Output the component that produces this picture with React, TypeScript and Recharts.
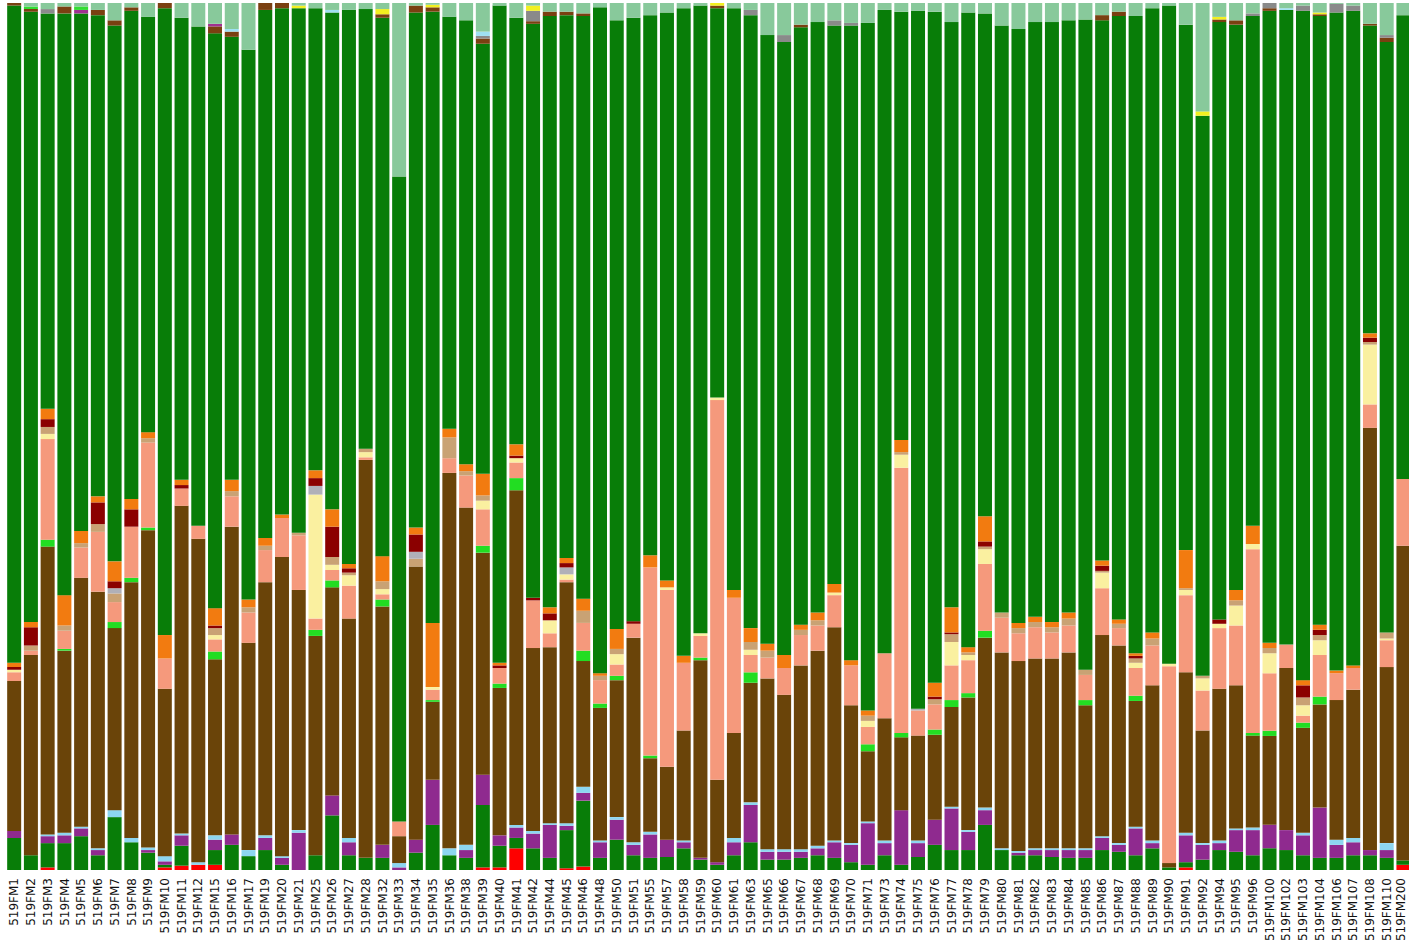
import { BarChart, Bar, XAxis, YAxis } from "recharts";

// relative abundance per sample, stacked bottom to top

const samples = [
  "519FM1", "519FM2", "519FM3", "519FM4", "519FM5", "519FM6", "519FM7", "519FM8", "519FM9", "519FM10",
  "519FM11", "519FM12", "519FM15", "519FM16", "519FM17", "519FM19", "519FM20", "519FM21", "519FM25", "519FM26",
  "519FM27", "519FM28", "519FM32", "519FM33", "519FM34", "519FM35", "519FM36", "519FM38", "519FM39", "519FM40",
  "519FM41", "519FM42", "519FM44", "519FM45", "519FM46", "519FM48", "519FM50", "519FM51", "519FM55", "519FM57",
  "519FM58", "519FM59", "519FM60", "519FM61", "519FM63", "519FM65", "519FM66", "519FM67", "519FM68", "519FM69",
  "519FM70", "519FM71", "519FM73", "519FM74", "519FM75", "519FM76", "519FM77", "519FM78", "519FM79", "519FM80",
  "519FM81", "519FM82", "519FM83", "519FM84", "519FM85", "519FM86", "519FM87", "519FM88", "519FM89", "519FM90",
  "519FM91", "519FM92", "519FM94", "519FM95", "519FM96", "519FM100", "519FM102", "519FM103", "519FM104", "519FM106",
  "519FM107", "519FM108", "519FM110", "519FM200",
];

const red = [
  0, 0, 0.3, 0, 0, 0, 0, 0, 0, 0.3,
  0.5, 0.6, 0.6, 0, 0, 0, 0, 0, 0, 0,
  0, 0, 0, 0, 0, 0, 0, 0, 0.3, 0.3,
  2.5, 0, 0, 0.2, 0.4, 0, 0, 0, 0, 0,
  0, 0, 0, 0, 0, 0, 0, 0, 0, 0,
  0, 0, 0, 0, 0, 0, 0, 0, 0, 0,
  0, 0, 0, 0, 0, 0, 0, 0, 0, 0,
  0.3, 0, 0, 0, 0, 0, 0, 0, 0, 0,
  0, 0, 0, 0.6,
];

const greenLow = [
  3.7, 1.7, 2.8, 3.1, 3.9, 1.7, 6.1, 3.2, 2.0, 0.3,
  2.3, 0, 1.7, 2.9, 1.6, 2.3, 0.6, 0, 1.7, 6.3,
  1.7, 1.4, 1.4, 0, 2.0, 5.2, 1.7, 1.4, 7.2, 2.5,
  1.2, 2.5, 1.4, 4.4, 7.6, 1.4, 3.5, 1.7, 1.4, 1.5,
  2.5, 1.2, 0.6, 1.7, 3.2, 1.2, 1.2, 1.4, 1.7, 1.4,
  0.9, 0.6, 1.7, 0.6, 1.5, 2.9, 2.3, 2.3, 5.2, 2.3,
  1.7, 1.7, 1.5, 1.4, 1.4, 2.3, 2.1, 1.7, 2.5, 0.3,
  0.6, 1.2, 2.3, 2.1, 1.7, 2.5, 2.3, 1.7, 1.4, 1.4,
  1.7, 1.7, 1.4, 0.5,
];

const purple = [
  0.8, 0, 0.8, 0.9, 0.9, 0.6, 0, 0, 0.3, 0.4,
  1.2, 0, 1.2, 1.2, 0, 1.4, 0.8, 4.3, 0, 2.3,
  1.5, 0, 1.5, 0.3, 1.5, 5.2, 0, 0.9, 3.5, 1.2,
  1.2, 1.7, 3.8, 0.5, 0.9, 1.8, 2.3, 1.2, 2.7, 2.0,
  0.7, 0.2, 0.3, 1.5, 4.3, 0.9, 0.9, 0.7, 0.8, 1.8,
  2.0, 4.8, 1.4, 6.3, 1.6, 2.9, 4.8, 2.1, 1.7, 0,
  0.3, 0.6, 0.8, 0.9, 0.9, 1.4, 0.8, 3.1, 0.6, 0,
  3.1, 1.7, 0.8, 2.5, 2.9, 2.7, 2.3, 2.3, 5.8, 1.5,
  1.5, 0.6, 0.9, 0,
];

const skyBlue = [
  0, 0, 0.2, 0.3, 0.2, 0.2, 0.8, 0.5, 0.3, 0.6,
  0.2, 0.3, 0.5, 0, 0.7, 0.3, 0.2, 0.3, 0, 0,
  0.5, 0, 0, 0.5, 0, 0, 0.8, 0.6, 0, 0,
  0.3, 0.3, 0.2, 0.3, 0.7, 0.2, 0.3, 0.3, 0.3, 0,
  0.2, 0, 0, 0.5, 0.3, 0.3, 0.3, 0.3, 0.3, 0.2,
  0.2, 0.2, 0.3, 0, 0.3, 0, 0.2, 0.2, 0.3, 0.2,
  0.2, 0.2, 0.2, 0.2, 0.2, 0.2, 0.2, 0.2, 0.3, 0,
  0.3, 0.2, 0.3, 0.2, 0.3, 0, 0, 0.3, 0, 0.6,
  0.5, 0, 0.8, 0,
];

const brown = [
  17.3, 23.1, 33.2, 21.0, 28.7, 29.6, 21.0, 29.5, 36.6, 19.3,
  37.8, 37.3, 20.3, 35.5, 23.9, 29.2, 34.5, 27.7, 25.3, 24.0,
  25.3, 45.9, 27.5, 3.1, 31.5, 9.0, 43.3, 38.9, 25.6, 17.0,
  38.6, 21.1, 20.3, 27.8, 14.5, 15.3, 15.8, 23.6, 8.5, 8.4,
  12.7, 22.8, 9.5, 12.1, 13.8, 19.7, 17.8, 21.2, 22.5, 24.6,
  15.9, 8.1, 14.1, 8.4, 12.1, 9.8, 11.5, 15.3, 19.6, 22.6,
  21.9, 21.9, 21.9, 22.6, 16.5, 23.2, 22.8, 14.5, 17.9, 0.5,
  18.5, 13.0, 17.5, 16.5, 10.6, 10.2, 18.7, 12.1, 11.9, 16.1,
  17.1, 48.7, 20.3, 36.3,
];

const lime = [
  0, 0, 0.8, 0.2, 0, 0, 0.7, 0.5, 0.3, 0,
  0, 0, 0.9, 0, 0, 0, 0, 0, 0.7, 0.8,
  0, 0, 0.8, 0, 0, 0.2, 0, 0, 0.8, 0.5,
  1.4, 0, 0, 0, 1.2, 0.5, 0.5, 0, 0.3, 0,
  0, 0.3, 0, 0, 1.2, 0, 0, 0, 0, 0,
  0, 0.8, 0, 0.5, 0, 0.6, 0.8, 0.5, 0.8, 0,
  0, 0, 0, 0, 0.6, 0, 0, 0.6, 0, 0,
  0, 0, 0, 0, 0.3, 0.6, 0, 0.6, 0.9, 0,
  0, 0, 0, 0,
];

const salmon = [
  1.0, 0.5, 11.6, 2.1, 3.5, 6.9, 2.3, 5.9, 9.8, 3.5,
  2.0, 1.5, 1.4, 3.5, 3.5, 3.7, 4.5, 6.3, 1.3, 1.2,
  3.8, 0.3, 0.6, 1.7, 0, 1.2, 1.7, 3.7, 4.2, 1.8,
  1.8, 5.5, 1.6, 0.3, 3.2, 2.7, 1.3, 1.6, 21.7, 20.4,
  7.8, 2.5, 43.8, 15.6, 2.0, 2.4, 3.1, 3.5, 2.9, 3.7,
  4.6, 2.0, 7.5, 30.6, 2.9, 2.9, 4.0, 3.8, 7.7, 4.0,
  3.2, 3.6, 3.0, 3.1, 2.9, 5.4, 2.0, 3.2, 4.6, 22.7,
  8.9, 4.6, 7.0, 6.9, 21.2, 6.6, 2.7, 0.8, 4.8, 3.1,
  2.5, 2.7, 3.1, 7.7,
];

const paleYellow = [
  0.3, 0, 0.6, 0, 0, 0, 0, 0, 0, 0,
  0, 0, 0.5, 0, 0, 0, 0, 0, 14.3, 0.6,
  1.2, 0.6, 0.6, 0, 0, 0.3, 0, 0, 1.0, 0,
  0.5, 0, 1.5, 0.6, 0, 0, 1.2, 0, 0, 0.3,
  0, 0.3, 0.3, 0, 0.6, 0, 0, 0, 0, 0.3,
  0, 0.7, 0, 1.5, 0, 0, 2.7, 0.6, 1.7, 0,
  0, 0, 0, 0, 0, 1.8, 0, 0.6, 0, 0.3,
  0.6, 1.4, 0.5, 2.3, 0.6, 2.3, 0, 1.2, 1.7, 0,
  0, 6.9, 0.2, 0,
];

const tan = [
  0, 0.6, 0.8, 0.6, 0.5, 0.9, 1.0, 0, 0.5, 0,
  0, 0, 0.8, 0.6, 0.6, 0.5, 0, 0.3, 0, 0.9,
  0.3, 0.4, 0.9, 0, 0.9, 0, 2.4, 0.5, 0.6, 0,
  0, 0, 0, 0, 1.4, 0.5, 0.6, 0, 0, 0,
  0, 0, 0, 0, 0.9, 0.8, 0, 0.6, 0.6, 0,
  0, 0.6, 0, 0.3, 0, 0.6, 0.9, 0.3, 0.3, 0.6,
  0.6, 0.6, 0.6, 0.8, 0.6, 0.2, 0.5, 0.5, 0.8, 0,
  0.2, 0.3, 0, 0.6, 0, 0.6, 0, 0.9, 0.6, 0,
  0, 0.3, 0.7, 0,
];

const silver = [
  0, 0, 0, 0, 0, 0, 0.6, 0, 0, 0,
  0, 0, 0, 0, 0, 0, 0, 0, 1.0, 0,
  0, 0, 0, 0, 0.8, 0, 0, 0, 0, 0,
  0, 0, 0, 0.8, 0, 0, 0, 0, 0, 0,
  0, 0, 0, 0, 0, 0, 0, 0, 0, 0,
  0, 0, 0, 0, 0.2, 0, 0, 0, 0, 0,
  0, 0, 0, 0, 0, 0, 0, 0, 0, 0,
  0, 0, 0, 0, 0, 0, 0, 0, 0, 0,
  0, 0, 0, 0,
];

const darkRed = [
  0.3, 2.1, 0.9, 0, 0, 2.5, 0.8, 2.0, 0, 0,
  0.4, 0, 0.3, 0, 0, 0, 0, 0, 0.9, 3.5,
  0.5, 0, 0, 0, 2.0, 0, 0, 0, 0, 0.3,
  0.3, 0.3, 0.8, 0.5, 0, 0, 0, 0.3, 0, 0,
  0, 0, 0, 0, 0, 0, 0, 0, 0, 0,
  0, 0, 0, 0, 0, 0.3, 0.2, 0, 0.6, 0,
  0, 0, 0, 0, 0, 0.6, 0, 0.3, 0, 0,
  0, 0, 0.5, 0, 0, 0, 0, 1.4, 0.6, 0,
  0, 0.5, 0, 0,
];

const orange = [
  0.5, 0.6, 1.2, 3.5, 1.4, 0.7, 2.3, 1.2, 0.7, 2.7,
  0.6, 0, 2.0, 1.3, 0.9, 0.9, 0.4, 0, 0.9, 2.0,
  0.5, 0, 2.9, 0, 0.8, 7.4, 1.0, 0.8, 2.5, 0.3,
  1.3, 0, 0.7, 0.6, 1.4, 0.3, 2.3, 0, 1.4, 0.8,
  0.8, 0, 0, 0.9, 1.6, 0.8, 1.5, 0.6, 0.9, 1.0,
  0.6, 0.6, 0, 1.4, 0, 1.6, 2.9, 0.6, 2.9, 0,
  0.6, 0.6, 0.6, 0.7, 0, 0.6, 0.5, 0.3, 0.7, 0,
  4.4, 0, 0, 1.2, 2.1, 0.6, 0, 0.6, 0.6, 0.3,
  0.3, 0.5, 0, 0,
];

const green = [
  75.8, 70.4, 45.6, 67.1, 59.7, 55.5, 61.8, 56.3, 47.9, 72.3,
  53.3, 57.6, 66.3, 51.1, 63.4, 60.9, 58.4, 60.5, 53.3, 57.3,
  63.9, 50.7, 62.1, 74.4, 59.4, 70.5, 47.5, 51.2, 49.6, 75.8,
  49.2, 66.2, 68.2, 62.6, 67.2, 76.8, 70.2, 69.6, 62.3, 65.5,
  74.7, 72.4, 44.9, 67.1, 70.7, 70.2, 70.7, 68.9, 68.1, 64.4,
  73.2, 79.3, 74.2, 49.4, 80.5, 77.4, 67.5, 73.2, 58.0, 67.7,
  68.5, 68.6, 69.2, 68.3, 75.0, 62.3, 69.6, 73.5, 72.0, 75.9,
  60.6, 64.6, 68.9, 65.2, 58.8, 72.6, 73.2, 77.2, 70.2, 75.9,
  75.5, 35.5, 68.1, 53.5,
];

const brownTop = [
  0.3, 0.3, 0, 0.8, 0, 0.6, 0.6, 0.4, 0, 0.6,
  0, 0, 0.8, 0.6, 0, 0.8, 0.6, 0, 0, 0,
  0, 0, 0.4, 0, 0.8, 0.5, 0, 0, 0.6, 0,
  0, 0.3, 0.5, 0.4, 0.3, 0, 0, 0, 0, 0,
  0, 0, 0.3, 0, 0, 0, 0, 0.3, 0, 0,
  0, 0, 0, 0, 0, 0, 0, 0, 0, 0,
  0, 0, 0, 0, 0, 0.6, 0.5, 0, 0, 0,
  0, 0, 0.3, 0.5, 0, 0.3, 0, 0, 0.2, 0,
  0, 0.2, 0.5, 0,
];

const purpleTop = [
  0, 0, 0, 0, 0.4, 0, 0, 0, 0, 0,
  0, 0, 0.3, 0, 0, 0, 0, 0, 0, 0,
  0, 0, 0, 0, 0, 0, 0, 0, 0, 0,
  0, 0, 0, 0, 0, 0, 0, 0, 0, 0,
  0, 0, 0, 0, 0, 0, 0, 0, 0, 0,
  0, 0, 0, 0, 0, 0, 0, 0, 0, 0,
  0, 0, 0, 0, 0, 0, 0, 0, 0, 0,
  0, 0, 0, 0, 0, 0, 0, 0, 0, 0,
  0, 0, 0, 0,
];

const greyTop = [
  0, 0, 0.5, 0, 0, 0, 0, 0, 0, 0,
  0, 0, 0, 0, 0, 0, 0, 0, 0, 0,
  0, 0, 0, 0, 0, 0, 0, 0, 0.3, 0,
  0, 1.2, 0, 0, 0, 0, 0, 0, 0, 0,
  0, 0, 0, 0, 0.6, 0, 0.8, 0, 0, 0.6,
  0.3, 0, 0, 0, 0, 0, 0, 0, 0, 0,
  0, 0, 0, 0, 0, 0, 0, 0, 0, 0,
  0, 0, 0, 0, 0.3, 0.6, 0, 0.6, 0, 1.0,
  0.6, 0, 0.3, 0,
];

const yellowTop = [
  0, 0, 0, 0, 0, 0, 0, 0, 0, 0,
  0, 0, 0, 0, 0, 0, 0, 0.3, 0, 0,
  0, 0, 0.6, 0, 0, 0.3, 0, 0, 0, 0,
  0, 0.6, 0, 0, 0, 0, 0, 0, 0, 0,
  0, 0, 0.3, 0, 0, 0, 0, 0, 0, 0,
  0, 0, 0, 0, 0, 0, 0, 0, 0, 0,
  0, 0, 0, 0, 0, 0, 0, 0, 0, 0,
  0, 0.5, 0.3, 0, 0, 0, 0, 0, 0.2, 0,
  0, 0, 0, 0,
];

const blueTop = [
  0, 0, 0, 0, 0, 0, 0, 0, 0, 0,
  0, 0, 0, 0.3, 0, 0, 0, 0, 0, 0.3,
  0, 0, 0, 0, 0, 0, 0, 0, 0.5, 0,
  0, 0, 0, 0, 0, 0, 0, 0, 0, 0,
  0, 0, 0, 0, 0, 0, 0, 0, 0, 0,
  0, 0, 0, 0, 0, 0, 0, 0, 0, 0,
  0, 0, 0, 0, 0, 0, 0, 0, 0, 0,
  0, 0, 0, 0, 0, 0, 0.2, 0, 0, 0,
  0, 0, 0, 0,
];

const limeTop = [
  0, 0.3, 0, 0, 0.4, 0, 0, 0, 0, 0,
  0, 0, 0, 0, 0, 0, 0, 0, 0, 0,
  0, 0, 0, 0, 0, 0, 0, 0, 0, 0,
  0, 0, 0, 0, 0, 0, 0, 0, 0, 0,
  0, 0, 0, 0, 0, 0, 0, 0, 0, 0,
  0, 0, 0, 0, 0, 0, 0, 0, 0, 0,
  0, 0, 0, 0, 0, 0, 0, 0, 0, 0,
  0, 0, 0, 0, 0, 0, 0, 0, 0, 0,
  0, 0, 0, 0,
];

const mint = [
  0, 0.4, 0.7, 0.4, 0.4, 0.8, 2.0, 0.5, 1.6, 0,
  1.7, 2.7, 2.4, 3.0, 5.4, 0, 0, 0.3, 0.6, 0.8,
  0.8, 0.7, 0.7, 20.0, 0.3, 0.2, 1.6, 2.0, 3.3, 0.3,
  1.7, 0.3, 1.0, 1.0, 1.2, 0.5, 2.0, 1.7, 1.4, 1.1,
  0.6, 0.3, 0, 0.6, 0.8, 3.7, 3.7, 2.5, 2.2, 2.0,
  2.3, 2.3, 0.8, 1.0, 0.9, 1.0, 2.2, 1.1, 1.2, 2.6,
  3.0, 2.2, 2.2, 2.0, 1.9, 1.4, 1.0, 1.5, 0.6, 0.3,
  2.5, 12.5, 1.6, 2.0, 1.2, 0, 0.6, 0.3, 1.1, 0.1,
  0.3, 2.4, 3.7, 1.4,
];

const SERIES = [
  { key: "red", values: red, color: "#fe0000" },
  { key: "greenLow", values: greenLow, color: "#087d08" },
  { key: "purple", values: purple, color: "#8f2a8f" },
  { key: "skyBlue", values: skyBlue, color: "#8dd6f0" },
  { key: "brown", values: brown, color: "#6a4409" },
  { key: "lime", values: lime, color: "#22dd22" },
  { key: "salmon", values: salmon, color: "#f5997c" },
  { key: "paleYellow", values: paleYellow, color: "#faf0a0" },
  { key: "tan", values: tan, color: "#c9a274" },
  { key: "silver", values: silver, color: "#b0b0b8" },
  { key: "darkRed", values: darkRed, color: "#8b0000" },
  { key: "orange", values: orange, color: "#f27b10" },
  { key: "green", values: green, color: "#087d08" },
  { key: "brownTop", values: brownTop, color: "#7a4011" },
  { key: "purpleTop", values: purpleTop, color: "#a03090" },
  { key: "greyTop", values: greyTop, color: "#8a8a8a" },
  { key: "yellowTop", values: yellowTop, color: "#f2f020" },
  { key: "blueTop", values: blueTop, color: "#9fe0f2" },
  { key: "limeTop", values: limeTop, color: "#33dd33" },
  { key: "mint", values: mint, color: "#88c99b" },
];

const data = samples.map((sample, i) => {
  const row: Record<string, number | string> = { sample };
  SERIES.forEach((s) => {
    row[s.key] = s.values[i];
  });
  return row;
});

// keep the last label inside the 1409px frame
const MAX_LABEL_X = 1401;

function SampleTick({ x, y, payload }: any) {
  const lx = Math.min(x, MAX_LABEL_X);
  return (
    <text
      transform={`translate(${lx},${y}) rotate(-90)`}
      textAnchor="end"
      dominantBaseline="central"
      fontSize={12}
      fontFamily="DejaVu Sans"
      fill="#111"
    >
      {payload.value}
    </text>
  );
}

export default function App() {
  return (
    <div
      style={{
        position: "absolute",
        left: 0,
        top: 0,
        width: 1409,
        height: 949,
        overflow: "hidden",
        background: "#fff",
      }}
    >
      <BarChart
        width={1412}
        height={949}
        data={data}
        margin={{ top: 3, right: 0, left: 6, bottom: 0 }}
        barCategoryGap="7%"
        stackOffset="expand"
      >
        <XAxis
          dataKey="sample"
          interval={0}
          axisLine={false}
          tickLine={false}
          height={79}
          tick={<SampleTick />}
        />
        <YAxis hide domain={[0, 1]} />
        {SERIES.map((s) => (
          <Bar
            key={s.key}
            dataKey={s.key}
            stackId="a"
            fill={s.color}
            isAnimationActive={false}
          />
        ))}
      </BarChart>
    </div>
  );
}
